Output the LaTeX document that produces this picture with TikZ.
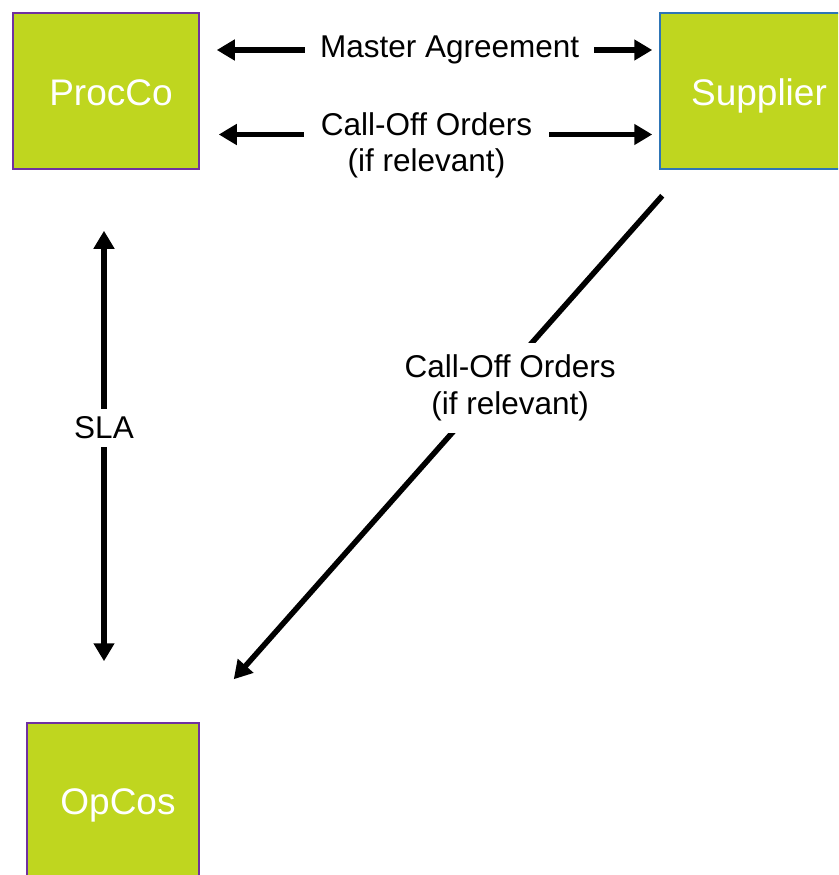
\documentclass[tikz,border=0pt]{standalone}
\usepackage{fontspec}
\setmainfont{Liberation Sans}
\usepackage{tikz}
\usetikzlibrary{arrows.meta,positioning,calc}
\definecolor{lime}{RGB}{191,214,31}
\definecolor{procpurple}{RGB}{112,48,160}
\definecolor{supblue}{RGB}{46,117,182}
\tikzset{
  party/.style={draw, line width=1.5pt, fill=lime, inner sep=0pt, minimum height=156pt},
  partyname/.style={text=white, font=\fontsize{37}{44}\selectfont},
  deal/.style={line width=5.5pt},
  dealtext/.style={fill=white, inner xsep=17pt, inner ysep=8pt, align=center, font=\fontsize{31.5}{36.5}\selectfont}
}

\begin{document}
\begin{tikzpicture}[x=1pt, y=-1pt, >={Triangle[length=18pt,width=20pt]}]
\useasboundingbox (0,0) rectangle (838,875); \clip (0,0) rectangle (838,875);
% the three parties
\node[party, draw=procpurple, minimum width=186pt, label={[partyname,xshift=5pt,yshift=-2pt]center:ProcCo}] (procco) at (106,91) {};
\node[party, draw=supblue, minimum width=196pt, label={[partyname,xshift=1pt,yshift=-5pt]center:Supplier}] (supplier) at (758,91) {};
\node[party, draw=procpurple, minimum width=172pt, label={[partyname,xshift=5pt,yshift=-4pt]center:OpCos}] (opcos) at (113,801) {};
% contracts between them
\draw[deal,<->,shorten <=17pt,shorten >=7pt] ([yshift=41pt]procco.east) -- node[dealtext,pos=.544,inner xsep=15pt]{Master Agreement} ([yshift=41pt]supplier.west);
\draw[deal,<->,shorten <=19pt,shorten >=7pt] ([yshift=-43.5pt]procco.east) -- node[dealtext,pos=.4935,yshift=-11pt]{Call-Off Orders\\(if relevant)} ([yshift=-43.5pt]supplier.west);
\draw[deal,<->,shorten <=61pt,shorten >=61pt] ([xshift=-2pt]procco.south) -- node[dealtext,pos=.467,inner xsep=4pt]{SLA} ([xshift=-2pt]procco.south |- opcos.north);
\draw[deal,->] ([xshift=3pt,yshift=-26pt]supplier.south west) -- node[dealtext,pos=.397,xshift=18pt,inner ysep=12pt]{Call-Off Orders\\(if relevant)} ([xshift=34pt,yshift=43pt]opcos.north east);
\end{tikzpicture}
\end{document}
